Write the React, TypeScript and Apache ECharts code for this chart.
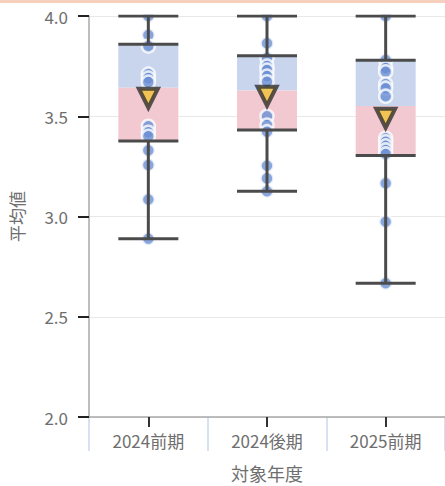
import React, { useEffect, useRef } from "react";
import * as echarts from "echarts";

const categories = ["2024前期", "2024後期", "2025前期"];
const yTicks = [2.0, 2.5, 3.0, 3.5, 4.0];
// [min, q1, median, q3, max]
const boxStats = [
  [2.889, 3.377, 3.642, 3.859, 4.0],
  [3.126, 3.431, 3.628, 3.802, 4.0],
  [2.667, 3.304, 3.551, 3.779, 4.0],
];
const means = [3.59, 3.6, 3.49];
const points2024H1 = [4.0, 3.905, 3.85, 3.71, 3.69, 3.67, 3.45, 3.42, 3.4, 3.33, 3.257, 3.085, 2.889];
const points2024H2 = [4.0, 3.864, 3.79, 3.75, 3.73, 3.7, 3.672, 3.5, 3.456, 3.423, 3.253, 3.19, 3.126];
const points2025H1 = [4.0, 3.78, 3.74, 3.722, 3.66, 3.64, 3.6, 3.39, 3.373, 3.352, 3.332, 3.312, 3.166, 2.974, 2.667];
const allPoints = [points2024H1, points2024H2, points2025H1];

const FONT = "'Noto Sans CJK JP', 'Noto Sans', sans-serif";

export default function App() {
  const ref = useRef<HTMLDivElement>(null);
  useEffect(() => {
    document.body.style.margin = "0";
    const chart = echarts.init(ref.current!, null, { renderer: "svg" });
    const boxData = boxStats.map((s, i) => [i, ...s]);
    const scatterData: number[][] = [];
    allPoints.forEach((arr, i) => arr.forEach((v) => scatterData.push([i, v])));
    const meanData = means.map((m, i) => [i, m]);
    const BW = 60;
    const lineColor = "#4b4b4b";
    chart.setOption({
      animation: false,
      textStyle: { fontFamily: FONT },
      graphic: [
        { type: "rect", left: 90, top: 3, z: 100, shape: { width: 355, height: 11.5 }, style: { fill: "#ffffff" } },
        { type: "rect", left: 0, top: 0, z: 101, shape: { width: 445, height: 3 }, style: { fill: "#f6cfbd" } },
      ],
      grid: [
        { left: 89, right: 0, top: 16, bottom: 69, outerBoundsMode: "none", containLabel: false },
        { left: 89, right: 0, top: 417, height: 34, outerBoundsMode: "none", containLabel: false },
      ],
      xAxis: [
        {
          type: "category",
          gridIndex: 0,
          data: categories,
          boundaryGap: true,
          axisLine: { lineStyle: { color: "#a8a8a8", width: 1.5 } },
          axisTick: { show: true, alignWithLabel: true, length: 10, lineStyle: { color: "#333", width: 2 } },
          axisLabel: { color: "#6e6e6e", fontSize: 17, margin: 15, fontFamily: FONT },
          name: "対象年度",
          nameLocation: "middle",
          nameGap: 46,
          nameTextStyle: { color: "#6e6e6e", fontSize: 18, lineHeight: 20, fontFamily: FONT },
        },
        {
          type: "category",
          gridIndex: 1,
          data: categories,
          boundaryGap: true,
          axisLine: { show: false },
          axisTick: { show: false },
          axisLabel: { show: false },
          splitLine: { show: true, lineStyle: { color: "#c8d8ef", width: 1.5 } },
        },
      ],
      yAxis: [
        {
          type: "value",
          gridIndex: 0,
          min: 2,
          max: 4,
          interval: 0.5,
          axisLine: { show: true, lineStyle: { color: "#a8a8a8", width: 1.5 } },
          axisTick: { show: true, length: 11, lineStyle: { color: "#222", width: 2 } },
          axisLabel: {
            color: "#6e6e6e",
            fontSize: 17,
            margin: 21,
            fontFamily: FONT,
            formatter: (v: number) => v.toFixed(1),
          },
          splitLine: { lineStyle: { color: "#e8e8e8", width: 1 } },
          name: "平均値",
          nameLocation: "middle",
          nameGap: 64,
          nameRotate: 90,
          nameTextStyle: { color: "#6e6e6e", fontSize: 17, fontFamily: FONT },
        },
        {
          type: "value",
          gridIndex: 1,
          min: 0,
          max: 1,
          show: false,
          splitLine: { show: false },
        },
      ],
      series: [
        {
          type: "custom",
          z: 1,
          data: boxData,
          encode: { x: 0, y: [1, 2, 3, 4, 5] },
          renderItem: (params: any, api: any) => {
            const i = api.value(0);
            const pQ1 = api.coord([i, api.value(2)]);
            const pMed = api.coord([i, api.value(3)]);
            const pQ3 = api.coord([i, api.value(4)]);
            const x = pQ1[0] - BW / 2;
            return {
              type: "group",
              children: [
                { type: "rect", shape: { x, y: pQ3[1], width: BW, height: pMed[1] - pQ3[1] }, style: { fill: "#c9d5ec" } },
                { type: "rect", shape: { x, y: pMed[1], width: BW, height: pQ1[1] - pMed[1] }, style: { fill: "#f2c9d1" } },
              ],
            };
          },
        },
        {
          type: "scatter",
          z: 2,
          data: scatterData,
          symbol: "circle",
          symbolSize: 13,
          itemStyle: { color: "#6a8ed3", borderColor: "#ffffff", borderWidth: 2.5 },
        },
        {
          type: "custom",
          z: 3,
          data: boxData,
          encode: { x: 0, y: [1, 2, 3, 4, 5] },
          renderItem: (params: any, api: any) => {
            const i = api.value(0);
            const pMin = api.coord([i, api.value(1)]);
            const pQ1 = api.coord([i, api.value(2)]);
            const pQ3 = api.coord([i, api.value(4)]);
            const pMax = api.coord([i, api.value(5)]);
            const cx = pMin[0];
            const st = { stroke: lineColor, lineWidth: 3 };
            const h = (y: number) => ({ type: "line", shape: { x1: cx - BW / 2, y1: y, x2: cx + BW / 2, y2: y }, style: st });
            return {
              type: "group",
              children: [
                { type: "line", shape: { x1: cx, y1: pMax[1], x2: cx, y2: pQ3[1] }, style: st },
                { type: "line", shape: { x1: cx, y1: pQ1[1], x2: cx, y2: pMin[1] }, style: st },
                h(pMax[1]),
                h(pQ3[1]),
                h(pQ1[1]),
                h(pMin[1]),
              ],
            };
          },
        },
        {
          type: "scatter",
          z: 4,
          data: meanData,
          symbol: "triangle",
          symbolRotate: 180,
          symbolSize: [19, 19],
          itemStyle: { color: "#f0c035", borderColor: "#2f2f2f", borderWidth: 4 },
        },
      ],
    });
    return () => chart.dispose();
  }, []);
  return <div ref={ref} style={{ width: 445, height: 486 }} />;
}
